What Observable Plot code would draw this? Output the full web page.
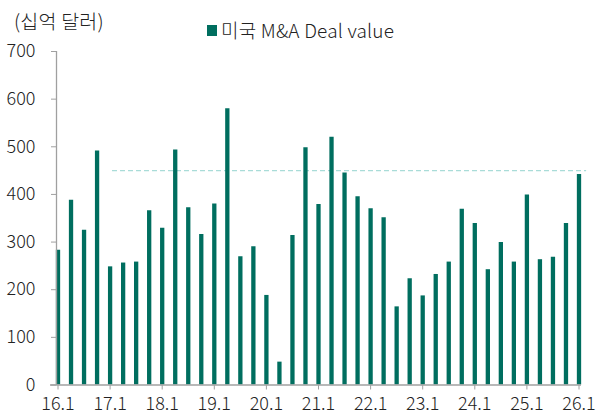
<!DOCTYPE html>
<html><head><meta charset="utf-8">
<script src="https://cdn.jsdelivr.net/npm/d3@7"></script>
<script src="https://cdn.jsdelivr.net/npm/@observablehq/plot@0.6"></script>
<style>
body{margin:0;background:#fff;font-family:"Noto Sans CJK KR","Noto Sans",sans-serif;color:#222;}
#wrap{position:relative;width:609px;height:419px;overflow:hidden;}
#ylab{position:absolute;left:14px;top:8px;font-size:19.5px;font-weight:300;letter-spacing:0.2px;line-height:1.3;}
#legend{position:absolute;left:207px;top:18px;font-size:19px;font-weight:300;display:flex;align-items:center;letter-spacing:0.2px;line-height:1.3;}
#legend span.sw{display:inline-block;width:10px;height:11px;background:#006E5F;margin-right:4px;}
#chart{position:absolute;left:0;top:0;}
</style></head>
<body>
<div id="wrap">
<div id="chart"></div>
<div id="ylab">(십억 달러)</div>
<div id="legend"><span class="sw"></span><span id="legtext"></span></div>
</div>
<script>
const seriesName = "미국 M&A Deal value";
const quarters = [
 "16.1","16.2","16.3","16.4","17.1","17.2","17.3","17.4","18.1","18.2","18.3","18.4",
 "19.1","19.2","19.3","19.4","20.1","20.2","20.3","20.4","21.1","21.2","21.3","21.4",
 "22.1","22.2","22.3","22.4","23.1","23.2","23.3","23.4","24.1","24.2","24.3","24.4",
 "25.1","25.2","25.3","25.4","26.1"];
const values = [
 283,388,325,491,248,256,258,366,329,493,372,316,
 380,580,269,290,188,48,314,498,379,520,445,395,
 370,351,164,223,187,232,258,369,339,242,299,258,
 399,263,268,339,442];
const yTicks = [0,100,200,300,400,500,600,700];
const yearLabels = ["16.1","17.1","18.1","19.1","20.1","21.1","22.1","23.1","24.1","25.1","26.1"];
const refLine = [{value:450, from:4.3, to:40.7}];

document.getElementById("legtext").textContent = seriesName;

const data = quarters.map((q,i)=>({i, q, v: values[i]}));
const yearIdx = yearLabels.map(l => quarters.indexOf(l));

const chart = Plot.plot({
  width: 609, height: 419,
  marginLeft: 56, marginRight: 32, marginTop: 51, marginBottom: 34.5,
  style: {fontFamily: '"Noto Sans CJK KR","Noto Sans",sans-serif', fontSize: "18px", fontWeight: 300, color: "#222", background: "transparent"},
  x: {type: "linear", domain: [0, quarters.length - 1]},
  y: {domain: [0, 700]},
  marks: [
    Plot.ruleY(refLine, {y: "value", x1: "from", x2: "to", stroke: "#a9dcd8", strokeWidth: 1.2, strokeDasharray: "5,3"}),
    Plot.ruleX(data, {x: "i", y1: 0, y2: "v", stroke: "#006E5F", strokeWidth: 4.3, dx: 1.5}),
    Plot.ruleX([0], {y1: 0, y2: 700, stroke: "#a0a0a0", strokeWidth: 1.3}),
    Plot.ruleY([0], {stroke: "#a0a0a0", strokeWidth: 1.5, insetLeft: -6, insetRight: -4}),
    Plot.axisY({ticks: yTicks, tickSize: 5, tickPadding: 16, stroke: "#a0a0a0", fill: "#222", label: null, tickFormat: d => String(d), fontSize: 18}),
    Plot.axisX({ticks: yearIdx, tickSize: 5, tickPadding: 7, stroke: "#a0a0a0", fill: "#222", label: null, tickFormat: i => quarters[i], fontSize: 18, dx: 1.5})
  ]
});
document.getElementById("chart").appendChild(chart);
</script>
</body></html>
